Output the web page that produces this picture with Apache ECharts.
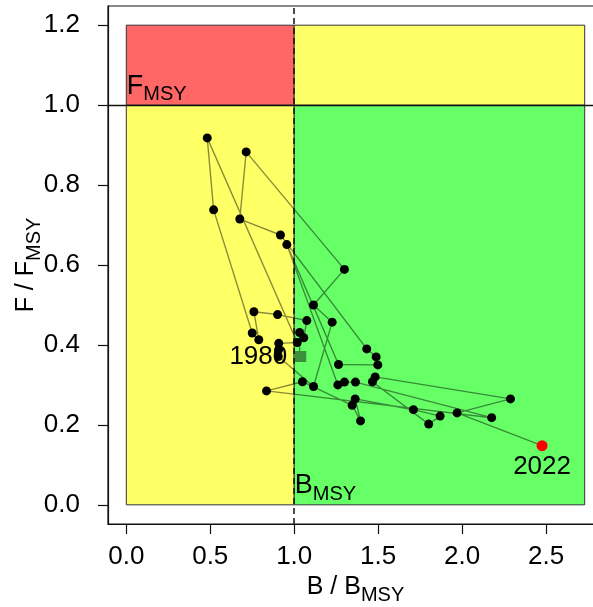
<!DOCTYPE html>
<html><head><meta charset="utf-8">
<script src="https://cdn.jsdelivr.net/npm/echarts@6/dist/echarts.min.js"></script>
<style>html,body{margin:0;padding:0;background:#fff}#c{width:593px;height:607px}</style>
</head><body><div id="c"></div>
<script>
// ---- data ----
const years = [1980,1981,1982,1983,1984,1985,1986,1987,1988,1989,
               1990,1991,1992,1993,1994,1995,1996,1997,1998,1999,
               2000,2001,2002,2003,2004,2005,2006,2007,2008,2009,
               2010,2011,2012,2013,2014,2015,2016,2017,2018,2019,
               2020,2021,2022];
const bRatio = [1.033,1.032,1.057,1.075,0.901,0.760,0.789,0.750,0.520,0.482,
                1.018,0.908,0.907,0.905,1.115,1.226,1.115,1.299,0.714,0.676,
                0.918,1.432,1.488,1.498,1.264,0.956,1.260,1.299,1.365,2.176,
                0.835,1.049,1.345,1.395,1.363,1.710,1.869,1.801,1.466,1.482,
                2.288,1.970,2.476];
const fRatio = [0.371,0.431,0.418,0.461,0.476,0.483,0.413,0.430,0.738,0.918,
                0.406,0.404,0.388,0.371,0.296,0.457,0.500,0.589,0.883,0.715,
                0.675,0.390,0.370,0.350,0.351,0.651,0.300,0.307,0.307,0.218,
                0.285,0.308,0.249,0.210,0.265,0.238,0.222,0.202,0.308,0.320,
                0.265,0.230,0.148];
const xTicks = [0, 0.5, 1.0, 1.5, 2.0, 2.5];
const yTicks = [0, 0.2, 0.4, 0.6, 0.8, 1.0, 1.2];
const bMsy = 1.0, fMsy = 1.0, bZoneMax = 2.73, fZoneMax = 1.2;
const xRange = [-0.109, 2.839];
const yRange = [-0.048, 1.248];
const refLabelText = ['F', 'B'];

// ---- styles ----
const FONT = '"Liberation Sans", Arial, Helvetica, sans-serif';
const RED = '#FF6666', YEL = '#FFFF66', GRN = '#66FF66';
const INK = '#000';

const pts = years.map((y, i) => [bRatio[i], fRatio[i], y]);
const mid = pts.slice(1, pts.length - 1);
const first = [pts[0]];
const last = [pts[pts.length - 1]];

const zone = (x0, y0, x1, y1, c) => [
  {xAxis: x0, yAxis: y0, itemStyle: {color: c, opacity: 1, borderColor: '#333', borderWidth: 1}},
  {xAxis: x1, yAxis: y1}
];

const subRich = (main, sub) => ({
  m: {fontSize: main, fontFamily: FONT, color: INK, padding: [0, 0, 5, 0], verticalAlign: 'bottom'},
  s: {fontSize: sub, fontFamily: FONT, color: INK, verticalAlign: 'bottom'}
});

const chart = echarts.init(document.getElementById('c'), null, {renderer: 'canvas'});
chart.setOption({
  animation: false,
  backgroundColor: '#fff',
  grid: {left: 108, top: 6, width: 495, height: 518, show: true, containLabel: false, outerBoundsMode: 'none',
         borderColor: '#111', borderWidth: 1.2, backgroundColor: 'transparent'},
  xAxis: {
    type: 'value', min: xRange[0], max: xRange[1],
    splitLine: {show: false},
    axisLine: {show: true, onZero: false, lineStyle: {color: '#111', width: 1.2}},
    axisTick: {show: true, customValues: xTicks, length: 10, lineStyle: {color: '#111', width: 1.2}},
    axisLabel: {customValues: xTicks, formatter: v => v.toFixed(1), fontSize: 26, color: INK, margin: 20, fontFamily: FONT},
    name: '{m|B / B}{s|MSY}', nameLocation: 'middle', nameGap: 51, nameMoveOverlap: false,
    nameTextStyle: {rich: subRich(25, 20)}
  },
  yAxis: {
    type: 'value', min: yRange[0], max: yRange[1],
    splitLine: {show: false},
    axisLine: {show: true, onZero: false, lineStyle: {color: '#111', width: 1.2}},
    axisTick: {show: true, customValues: yTicks, length: 10, lineStyle: {color: '#111', width: 1.2}},
    axisLabel: {customValues: yTicks, formatter: v => v.toFixed(1), fontSize: 26, color: INK, margin: 28, fontFamily: FONT},
    name: '{m|F / F}{s|MSY}', nameLocation: 'middle', nameGap: 64, nameRotate: 90, nameMoveOverlap: false,
    nameTextStyle: {rich: subRich(25, 20)}
  },
  series: [
    {
      type: 'line', data: [], z: 1, silent: true,
      markArea: {
        silent: true,
        data: [
          zone(0, 0, bMsy, fMsy, YEL),
          zone(bMsy, 0, bZoneMax, fMsy, GRN),
          zone(0, fMsy, bMsy, fZoneMax, RED),
          zone(bMsy, fMsy, bZoneMax, fZoneMax, YEL)
        ]
      },
      markLine: {
        silent: true, symbol: ['none', 'none'], label: {show: false},
        data: [
          {yAxis: fMsy, lineStyle: {color: '#111', width: 1.3, type: 'solid'}},
          {xAxis: bMsy, lineStyle: {color: '#111', width: 1.5, type: [6, 4]}}
        ]
      }
    },
    {
      type: 'line', data: pts, z: 3, showSymbol: false, silent: true,
      lineStyle: {color: 'rgba(0,0,0,0.45)', width: 1.4}
    },
    {
      type: 'scatter', data: mid, z: 4, symbolSize: 9, silent: true,
      itemStyle: {color: '#000', opacity: 1}
    },
    {
      type: 'scatter', data: first, z: 4, symbol: 'rect', symbolSize: [13, 11], silent: true,
      itemStyle: {color: '#3b8f3b', opacity: 1},
      label: {show: true, position: 'left', distance: 6, formatter: p => String(p.data[2]), fontSize: 26, color: INK, fontFamily: FONT}
    },
    {
      type: 'scatter', data: last, z: 4, symbolSize: 11, silent: true,
      itemStyle: {color: '#FF0000', opacity: 1},
      label: {show: true, position: 'bottom', distance: 3, formatter: p => String(p.data[2]), fontSize: 26, color: INK, fontFamily: FONT}
    },
    {
      type: 'scatter', z: 5, silent: true, symbolSize: 1,
      data: [[0, fMsy, 0], [bMsy, 0, 1]],
      itemStyle: {color: 'rgba(0,0,0,0)', opacity: 1},
      label: {
        show: true, position: [1, 0], align: 'left', verticalAlign: 'bottom',
        formatter: p => '{m|' + refLabelText[p.data[2]] + '}{s|MSY}',
        rich: subRich(27, 20)
      }
    }
  ]
});
</script>
</body></html>
